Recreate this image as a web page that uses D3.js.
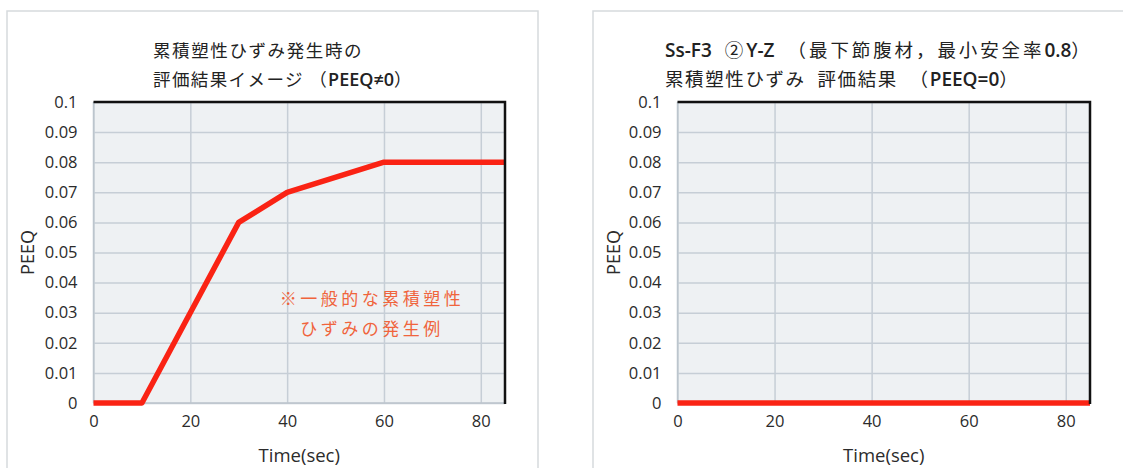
<!DOCTYPE html>
<html><head><meta charset="utf-8">
<script src="https://cdn.jsdelivr.net/npm/d3@7"></script>
<style>
html,body{margin:0;padding:0;background:#fff;}
svg{display:block;}
</style></head>
<body>
<svg id="c" width="1123" height="468"></svg>
<script>
// ---- data ----
const timeTicks = [0, 20, 40, 60, 80];
const peeqTicks = [0, 0.01, 0.02, 0.03, 0.04, 0.05, 0.06, 0.07, 0.08, 0.09, 0.1];
const peeqTickLabels = ["0", "0.01", "0.02", "0.03", "0.04", "0.05", "0.06", "0.07", "0.08", "0.09", "0.1"];
const timeDomain = [0, 85];
const peeqDomain = [0, 0.1];

const exampleTime = [0, 10, 30, 40, 60, 85];
const examplePeeq = [0, 0, 0.06, 0.07, 0.08, 0.08];

const resultTime = [0, 85];
const resultPeeq = [0, 0];

const leftTitle = ["累積塑性ひずみ発生時の", "評価結果イメージ （PEEQ≠0）"];
const rightTitle = ["Ss-F3 ②Y-Z （最下節腹材，最小安全率0.8）", "累積塑性ひずみ 評価結果 （PEEQ=0）"];
const annotation = ["※一般的な累積塑性", "ひずみの発生例"];
const xLabel = "Time(sec)";
const yLabel = "PEEQ";

// ---- drawing ----
const svg = d3.select("#c");
const FONT = "'Open Sans','Noto Sans CJK JP',sans-serif";
const JFONT = "'Noto Sans CJK JP','Noto Sans',sans-serif";

function runs(s) {
  const out = [];
  for (const ch of s) {
    const latin = /[\x21-\x7e≠]/.test(ch);
    const last = out[out.length - 1];
    if (last && last.latin === latin) last.t += ch; else out.push({t: ch, latin});
  }
  return out;
}

function drawChart(o) {
  const g = svg.append("g");
  g.append("rect").attr("x", o.cardX).attr("y", 11).attr("width", o.cardW).attr("height", 470)
    .attr("fill", "#fff").attr("stroke", "#d6dadd").attr("stroke-width", 1.5);

  const x = d3.scaleLinear().domain(timeDomain).range([o.px0, o.px1]);
  const y = d3.scaleLinear().domain(peeqDomain).range([403, 102]);

  g.append("rect").attr("x", x(timeDomain[0])).attr("y", y(peeqDomain[1]))
    .attr("width", x(timeDomain[1]) - x(timeDomain[0])).attr("height", y(peeqDomain[0]) - y(peeqDomain[1]))
    .attr("fill", "#eef1f3");

  g.append("g").attr("transform", `translate(0,${y(0)})`)
    .call(d3.axisBottom(x).tickValues(timeTicks).tickSize(-(y(0) - y(0.1))).tickFormat(""))
    .call(a => a.select(".domain").remove())
    .call(a => a.selectAll("line").attr("stroke", "#c6ced6").attr("stroke-width", 1.5));
  g.append("g").attr("transform", `translate(${x(0)},0)`)
    .call(d3.axisLeft(y).tickValues(peeqTicks).tickSize(-(x(85) - x(0))).tickFormat(""))
    .call(a => a.select(".domain").remove())
    .call(a => a.selectAll("line").attr("stroke", "#c6ced6").attr("stroke-width", 1.5));

  g.append("line").attr("x1", x(0)).attr("x2", x(0)).attr("y1", y(0)).attr("y2", y(0.1))
    .attr("stroke", "#bcc5cd").attr("stroke-width", 1.5);
  g.append("line").attr("x1", x(0)).attr("x2", x(85)).attr("y1", y(0)).attr("y2", y(0))
    .attr("stroke", "#bcc5cd").attr("stroke-width", 1.5);

  g.append("g").attr("transform", `translate(${x(0) - 16},0)`)
    .call(d3.axisLeft(y).tickValues(peeqTicks).tickSize(0).tickPadding(0)
      .tickFormat((d, i) => peeqTickLabels[i]))
    .call(a => a.select(".domain").remove())
    .call(a => a.selectAll("text").attr("font-family", FONT).attr("font-size", 16.5).attr("fill", "#2b2b2b"));
  g.append("g").attr("transform", `translate(0,${y(0) + 12})`)
    .call(d3.axisBottom(x).tickValues(timeTicks).tickSize(0).tickPadding(0))
    .call(a => a.select(".domain").remove())
    .call(a => a.selectAll("text").attr("font-family", FONT).attr("font-size", 16.5).attr("fill", "#2b2b2b"));

  g.append("text").attr("x", (x(0) + x(85)) / 2).attr("y", 462).attr("text-anchor", "middle")
    .attr("font-family", FONT).attr("font-size", 18.5).attr("fill", "#2b2b2b").text(xLabel);
  g.append("text").attr("transform", `translate(${o.cardX + 27},${(y(0) + y(0.1)) / 2}) rotate(-90)`)
    .attr("text-anchor", "middle").attr("font-family", FONT).attr("font-size", 18).attr("fill", "#2b2b2b").text(yLabel);

  const pts = o.t.map((t, i) => [t, o.v[i]]);
  g.append("path").datum(pts)
    .attr("d", d3.line().x(d => x(d[0])).y(d => y(d[1])))
    .attr("fill", "none").attr("stroke", "#fa2314").attr("stroke-width", 5.5)
    .attr("stroke-linejoin", "round");

  g.append("path").attr("d", `M${x(0)},${y(0.1)}H${x(85)}V${y(0) + 1}`)
    .attr("fill", "none").attr("stroke", "#111").attr("stroke-width", 2.5);

  o.title.forEach((s, i) => {
    const t = g.append("text").attr("x", o.titleX).attr("y", 57 + i * 29).attr("fill", "#222")
      .attr("word-spacing", o.ws);
    runs(s).forEach(r => {
      t.append("tspan").text(r.t)
        .attr("font-family", r.latin ? FONT : JFONT)
        .attr("font-weight", r.latin ? 600 : 400)
        .attr("font-size", r.latin ? o.fs + 0.5 : o.fs)
        .attr("letter-spacing", r.latin ? 0 : o.ls[i]);
    });
  });
  return {x, y, g};
}

const L = drawChart({cardX: 7, cardW: 531, px0: 93.5, px1: 505, t: exampleTime, v: examplePeeq,
  title: leftTitle, titleX: 153, fs: 17.5, ls: [1.6, 1.4], ws: 0});
drawChart({cardX: 593, cardW: 560, px0: 677.5, px1: 1090, t: resultTime, v: resultPeeq,
  title: rightTitle, titleX: 665, fs: 18.5, ls: [2.9, 1.6], ws: 6});

annotation.forEach((s, i) => {
  L.g.append("text").attr("x", 372).attr("y", 305 + i * 30).attr("text-anchor", "middle")
    .attr("font-family", JFONT).attr("font-size", 17).attr("letter-spacing", 3.5)
    .attr("fill", "#f0643c").text(s);
});
</script>
</body></html>
